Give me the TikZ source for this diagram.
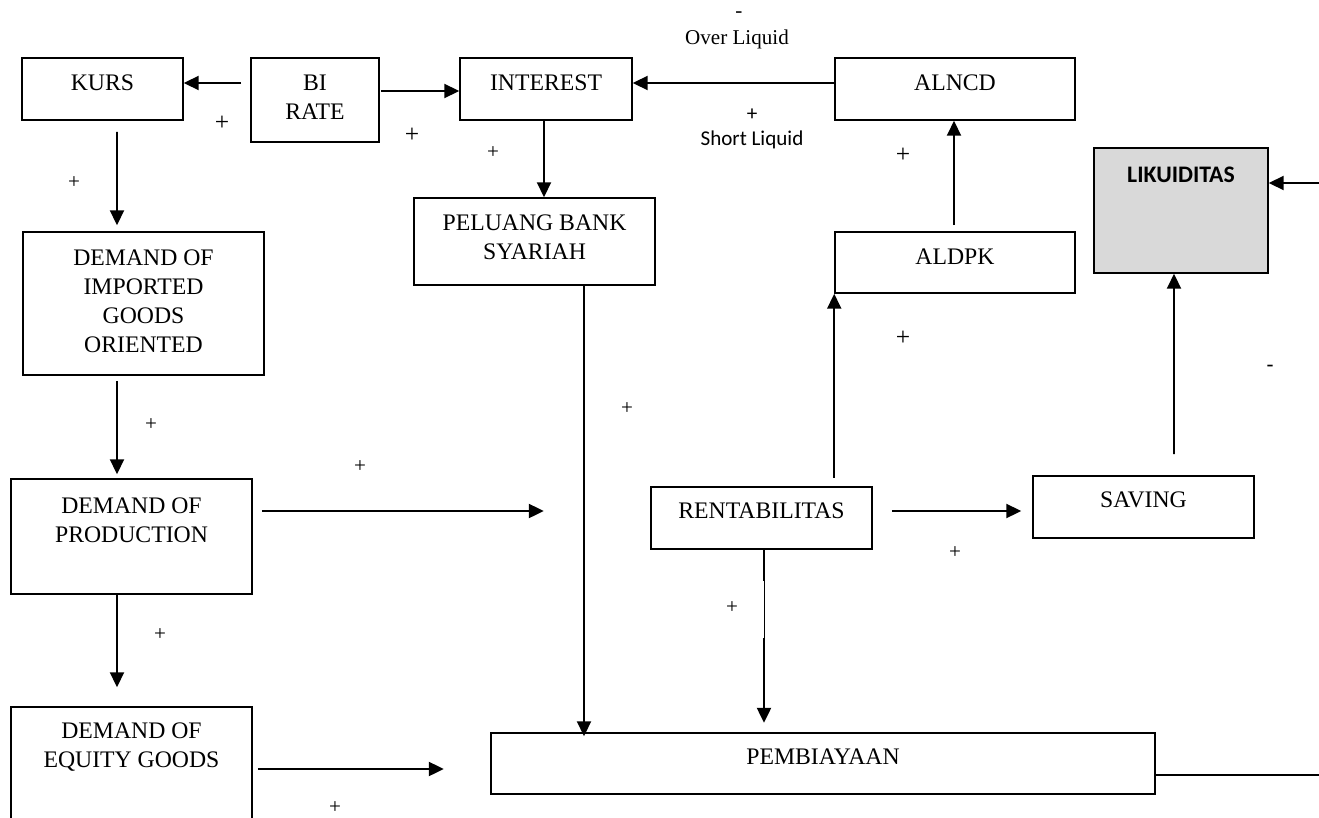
\documentclass[tikz,border=0pt]{standalone}
\usepackage{fontspec}
\setmainfont{Liberation Serif}
\newfontfamily\calibri{Carlito}
\usetikzlibrary{arrows.meta,calc}
\newcommand{\boxfont}{\fontsize{13.5}{16.5}\selectfont}
\definecolor{likgray}{HTML}{D9D9D9}

\begin{document}
\begin{tikzpicture}[x=0.02cm,y=-0.02cm,>={Triangle[length=8.5pt,width=8pt]},
  blk/.style={draw,line width=0.9pt,inner sep=0pt,minimum height=1.24cm},
  wire/.style={line width=1.1pt},
  sgn/.style={font=\fontsize{12}{14}\selectfont,inner sep=0pt},
  bigsgn/.style={font=\fontsize{14.5}{16}\selectfont,inner sep=0pt},
  every label/.style={font=\boxfont,align=center,inner sep=0pt}]
  \clip (0,0) rectangle (1319,818);
  % Boxes, top row
  \node[blk,minimum width=3.22cm,label={[yshift=0.12cm]center:KURS}] (kurs) at (102.5,89) {};
  \node[blk,minimum width=2.56cm,minimum height=1.68cm,label={[yshift=0.05cm]center:BI\\RATE}] (birate) at (315,100) {};
  \node[blk,minimum width=3.44cm,label={[yshift=0.12cm]center:INTEREST}] (interest) at (546,89) {};
  \node[blk,minimum width=4.8cm,label={[yshift=0.12cm]center:ALNCD}] (alncd) at (955,89) {};
  \node[blk,minimum width=4.82cm,minimum height=1.74cm,label={[yshift=0.08cm]center:PELUANG BANK\\SYARIAH}] (peluang) at (534.5,241.5) {};
  \node[blk,minimum width=4.8cm,minimum height=1.22cm,label={[yshift=0.11cm]center:ALDPK}] (aldpk) at (955,262.5) {};
  \node[blk,fill=likgray,minimum width=3.48cm,minimum height=2.5cm,
    label={[yshift=0.71cm,font=\calibri\fontsize{13.5}{16}\selectfont\bfseries]center:LIKUIDITAS}] (likuid) at (1181,210.5) {};
  % Boxes, left column
  \node[blk,minimum width=4.82cm,minimum height=2.86cm,label={[yshift=0.04cm]center:DEMAND OF\\IMPORTED\\GOODS\\ORIENTED}] (demimp) at (143.5,303.5) {};
  \node[blk,minimum width=4.82cm,minimum height=2.3cm,label={[yshift=0.33cm]center:DEMAND OF\\PRODUCTION}] (demprod) at (131.5,536.5) {};
  \node[blk,minimum width=4.82cm,minimum height=2.46cm,label={[yshift=0.43cm]center:DEMAND OF\\EQUITY GOODS}] (demeq) at (131.5,768.5) {};
  % Boxes, lower right
  \node[blk,minimum width=4.42cm,label={[yshift=0.14cm]center:RENTABILITAS}] (rent) at (761.5,518) {};
  \node[blk,minimum width=4.42cm,label={[yshift=0.14cm]center:SAVING}] (saving) at (1143.5,507) {};
  \node[blk,minimum width=13.28cm,minimum height=1.22cm,label={[yshift=0.13cm]center:PEMBIAYAAN}] (pemb) at (823,763.5) {};
  % Arrows
  \draw[wire,->] ($(birate.west)+(-9,-17)$) -- ($(kurs.east)+(0,-6)$);
  \draw[wire,->] ($(birate.east)+(1,-9)$) -- ($(interest.west)+(0,2)$);
  \draw[wire,->] ($(alncd.west)+(0,-6)$) -- ($(interest.east)+(0,-6)$);
  \draw[wire,->] ($(interest.south)+(-2,0)$) -- ($(peluang.north)+(9.5,0)$);
  \draw[wire,->] ($(kurs.south)+(14.5,11)$) -- ($(demimp.north)+(-26.5,-6)$);
  \draw[wire,->] ($(demimp.south)+(-26.5,5)$) -- ($(demprod.north)+(-14.5,-4)$);
  \draw[wire,->] ($(demprod.south)+(-14.5,0)$) -- ($(demeq.north)+(-14.5,-19)$);
  \draw[wire,->] ($(demprod.east)+(9,-25.5)$) coordinate (dpout) -- ++(282,0);
  \draw[wire,->] ($(demeq.east)+(5,0.5)$) coordinate (deout) -- ++(186,0);
  \draw[wire,->] ($(peluang.south)+(49.5,0)$) -- ($(pemb.north)+(-239,4)$);
  \draw[wire,->] ($(aldpk.south west)+(0,184)$) -- (aldpk.south west);
  \draw[wire,->] ($(aldpk.north)+(-1,-6)$) -- ($(alncd.south)+(-1,0)$);
  \draw[wire,->] ($(saving.north)+(30.5,-21)$) -- ($(likuid.south)+(-7,0)$);
  \coordinate (likin) at (1319,183);
  \draw[wire,->] (likin) -- ($(likuid.east)+(0,-27.5)$);
  \draw[wire,->] ($(rent.east)+(19,-7)$) -- ($(saving.west)+(-11,4)$);
  \draw[wire] ($(rent.south)+(2.5,0)$) -- ++(0,31) coordinate (rmid);
  \draw[thin] (rmid) -- ++(0,57) coordinate (rlow);
  \draw[wire,->] (rlow) -- ++(0,85);
  \coordinate (pembout) at (1319,775);
  \draw[line width=0.9pt] ($(pemb.east)+(0,11.5)$) -- (pembout);
  % Signs and liquidity notes
  \node[sgn] (ovsign) at (739,15) {-};
  \node[sgn] (over) at (737,39) {Over Liquid};
  \node[sgn,font=\calibri\fontsize{12}{14}\selectfont] (shsign) at (752,115) {+};
  \node[sgn,font=\calibri\fontsize{12}{14}\selectfont] (short) at (752,140) {Short Liquid};
  \node[sgn,font=\calibri\fontsize{13}{14}\selectfont] (neg) at (1270,369) {-};
  \foreach \x/\y [count=\i] in {222/123,412/135,903/155,903/338}
    \node[bigsgn] (bp\i) at (\x,\y) {+};
  \foreach \x/\y [count=\i] in {74/183,493/153,151/425,360/467,627/409,160/635,335/808,955/553,732/608}
    \node[sgn] (sp\i) at (\x,\y) {+};
\end{tikzpicture}
\end{document}
